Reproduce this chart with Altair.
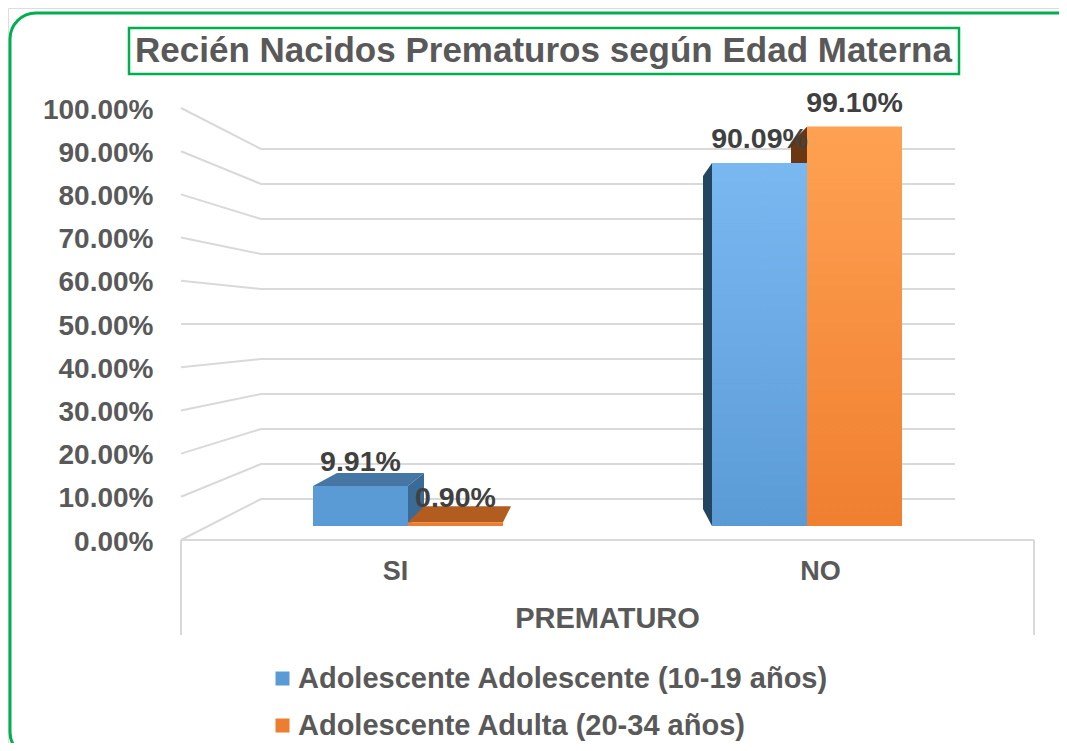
import altair as alt
import pandas as pd

categories = ["SI", "NO"]
series_names = ["Adolescente Adolescente (10-19 años)", "Adolescente Adulta (20-34 años)"]
teen_values = [0.0991, 0.9009]
adult_values = [0.0090, 0.9910]
ticks = [0, .1, .2, .3, .4, .5, .6, .7, .8, .9, 1]

FONT = "Liberation Sans"
GRAY = "#595959"
GREEN = "#00B050"
WALL = "#D9D9D9"
BLUE, ORANGE = "#5B9BD5", "#ED7D31"

# scales
X_UNIT = alt.Scale(domain=[0, 1], range=[400, 799], zero=False, nice=False)
Y_BAR = alt.Scale(domain=[0, 1], range=[518, 115], zero=False, nice=False)
Y_FRONT = alt.Scale(domain=[0, 1], range=[532, 100], zero=False, nice=False)
Y_BACK = alt.Scale(domain=[0, 1], range=[491, 141], zero=False, nice=False)

BAR_W = 95 / 399
ux = lambda px: px / 399
uy = lambda px: px / 403

rows = []
for i, c in enumerate(categories):
    rows.append(dict(cat=c, series=series_names[0], value=teen_values[i], x0=i - BAR_W, x1=float(i), base=0.0))
    rows.append(dict(cat=c, series=series_names[1], value=adult_values[i], x0=float(i), x1=i + BAR_W, base=0.0))
bars = pd.DataFrame(rows)
bars["mid"] = (bars.x0 + bars.x1) / 2


def vface(color, pts):
    df = pd.DataFrame(pts, columns=["x", "y", "y2"])
    return alt.Chart(df).mark_area(orient="vertical", color=color, opacity=1).encode(
        x=alt.X("x:Q", scale=X_UNIT, axis=None),
        y=alt.Y("y:Q", scale=Y_BAR, axis=None),
        y2="y2:Q",
    )


def hface(color, pts):
    df = pd.DataFrame(pts, columns=["y", "x", "x2"])
    return alt.Chart(df).mark_area(orient="horizontal", color=color, opacity=1).encode(
        y=alt.Y("y:Q", scale=Y_BAR, axis=None),
        x=alt.X("x:Q", scale=X_UNIT, axis=None),
        x2="x2:Q",
    )


t0, t1 = teen_values
a0, a1 = adult_values
faces = [
    # SI: teen top and right face, adult top
    hface("#4676A4", [(t0, -BAR_W, 0), (t0 + uy(13), -BAR_W + ux(24), ux(16))]),
    vface("#3A6B96", [(0, t0, 0), (ux(16), t0 + uy(13), uy(16))]),
    hface("#B35C20", [(a0, 0, BAR_W), (a0 + uy(16), ux(16), BAR_W + ux(8))]),
    # NO: left faces
    vface("#6B3612", [(1 - ux(16), a1 - uy(16), t1), (1, a1, t1)]),
    vface("#24455F", [(1 - BAR_W - ux(9), t1 - uy(13), uy(17)), (1 - BAR_W, t1, 0)]),
]

tick_df = pd.DataFrame({"tick": ticks})
tick_df["back_on_front"] = (532 - (491 - 350 * tick_df.tick)) / 432

frame = alt.Chart(alt.Data(values=[{}])).mark_rect(
    fillOpacity=0, stroke=GREEN, strokeWidth=3, cornerRadius=26
).encode(x=alt.value(2), x2=alt.value(1085), y=alt.value(5), y2=alt.value(750))

title_box = alt.Chart(alt.Data(values=[{}])).mark_rect(
    fillOpacity=0, stroke=GREEN, strokeWidth=2.5
).encode(x=alt.value(121), x2=alt.value(951), y=alt.value(20), y2=alt.value(66))

back_lines = alt.Chart(tick_df).mark_rule(color=WALL, strokeWidth=2).encode(
    x=alt.value(253), x2=alt.value(947),
    y=alt.Y("tick:Q", scale=Y_BACK, axis=None),
)

side_lines = alt.Chart(tick_df).mark_rule(color=WALL, strokeWidth=2).encode(
    x=alt.value(173), x2=alt.value(253),
    y=alt.Y("tick:Q", scale=Y_FRONT, axis=alt.Axis(
        orient="left", offset=-150, format=".2%", values=ticks, title=None, grid=False,
        domain=False, ticks=False, labelPadding=5, labelFontSize=28, labelFont=FONT,
        labelFontWeight="bold", labelColor=GRAY, labelOffset=2)),
    y2="back_on_front:Q",
)

floor = [
    alt.Chart(alt.Data(values=[{}])).mark_rule(color=WALL, strokeWidth=2).encode(
        x=alt.value(173), x2=alt.value(1026), y=alt.value(532)),
    alt.Chart(alt.Data(values=[{}])).mark_rule(color=WALL, strokeWidth=2).encode(
        x=alt.value(173), y=alt.value(532), y2=alt.value(627)),
    alt.Chart(alt.Data(values=[{}])).mark_rule(color=WALL, strokeWidth=2).encode(
        x=alt.value(1026), y=alt.value(532), y2=alt.value(627)),
]

# The x axis sits at the view's bottom edge, lifted by a negative offset; view height is 735
x_axis = alt.Chart(pd.DataFrame({"cat": categories})).mark_point(opacity=0).encode(
    x=alt.X("cat:N", sort=categories,
            scale=alt.Scale(type="point", domain=categories, range=[387, 812], padding=0),
            axis=alt.Axis(orient="bottom", offset=-190, labelAngle=0, ticks=False, domain=False,
                          grid=False, labelFontSize=27, labelFont=FONT, labelFontWeight="bold",
                          labelColor=GRAY, labelPadding=5, labelBaseline="top",
                          title="PREMATURO", titleFontSize=29, titleFont=FONT, titleFontWeight="bold",
                          titleColor=GRAY, titleX=599, titleY=65, titleBaseline="middle",
                          titleAlign="center", titlePadding=0)),
    y=alt.value(550),
)

front = alt.Chart(bars).mark_bar().encode(
    x=alt.X("x0:Q", scale=X_UNIT, axis=None),
    x2="x1:Q",
    y=alt.Y("value:Q", scale=Y_BAR, axis=None),
    y2="base:Q",
    color=alt.Color("series:N", sort=series_names,
                    scale=alt.Scale(domain=series_names, range=[BLUE, ORANGE]),
                    legend=alt.Legend(orient="none", legendX=260, legendY=656, title=None,
                                      direction="vertical", symbolType="square", symbolSize=196,
                                      symbolStrokeWidth=0, labelFont=FONT, labelFontSize=29,
                                      labelFontWeight="bold", labelColor=GRAY, rowPadding=17,
                                      labelLimit=700, labelOffset=1, symbolOpacity=1)),
)


def gradient(top, bottom):
    return alt.Gradient(gradient="linear", x1=0, x2=0, y1=0, y2=1,
                        stops=[alt.GradientStop(color=top, offset=0),
                               alt.GradientStop(color=bottom, offset=1)])


def shaded(series, top, bottom):
    df = bars[(bars.cat == "NO") & (bars.series == series)]
    return alt.Chart(df).mark_bar(color=gradient(top, bottom)).encode(
        x=alt.X("x0:Q", scale=X_UNIT, axis=None),
        x2="x1:Q",
        y=alt.Y("value:Q", scale=Y_BAR, axis=None),
        y2="base:Q",
    )


labels = alt.Chart(bars).mark_text(
    font=FONT, fontWeight="bold", fontSize=28.5, color="#404040", baseline="middle", dy=-24
).encode(
    x=alt.X("mid:Q", scale=X_UNIT, axis=None),
    y=alt.Y("value:Q", scale=Y_BAR, axis=None),
    text=alt.Text("value:Q", format=".2%"),
)

chart = alt.layer(
    frame, title_box, back_lines, side_lines, *floor, x_axis, *faces, front,
    shaded(series_names[0], "#7AB8F2", "#5B9BD5"),
    shaded(series_names[1], "#FFA152", "#F07F30"),
    labels,
).resolve_scale(x="independent", y="independent", color="independent").properties(
    width=1051, height=735,
    padding=0,
    autosize=alt.AutoSizeParams(type="none"),
    title=alt.TitleParams("Recién Nacidos Prematuros según Edad Materna", font=FONT, fontSize=35,
                          fontWeight="bold", color=GRAY, anchor="middle", dx=10, dy=61, offset=0),
).configure_view(stroke=None).configure(background="white")

chart.save("out.html", embed_options={"renderer": "svg", "actions": False})
